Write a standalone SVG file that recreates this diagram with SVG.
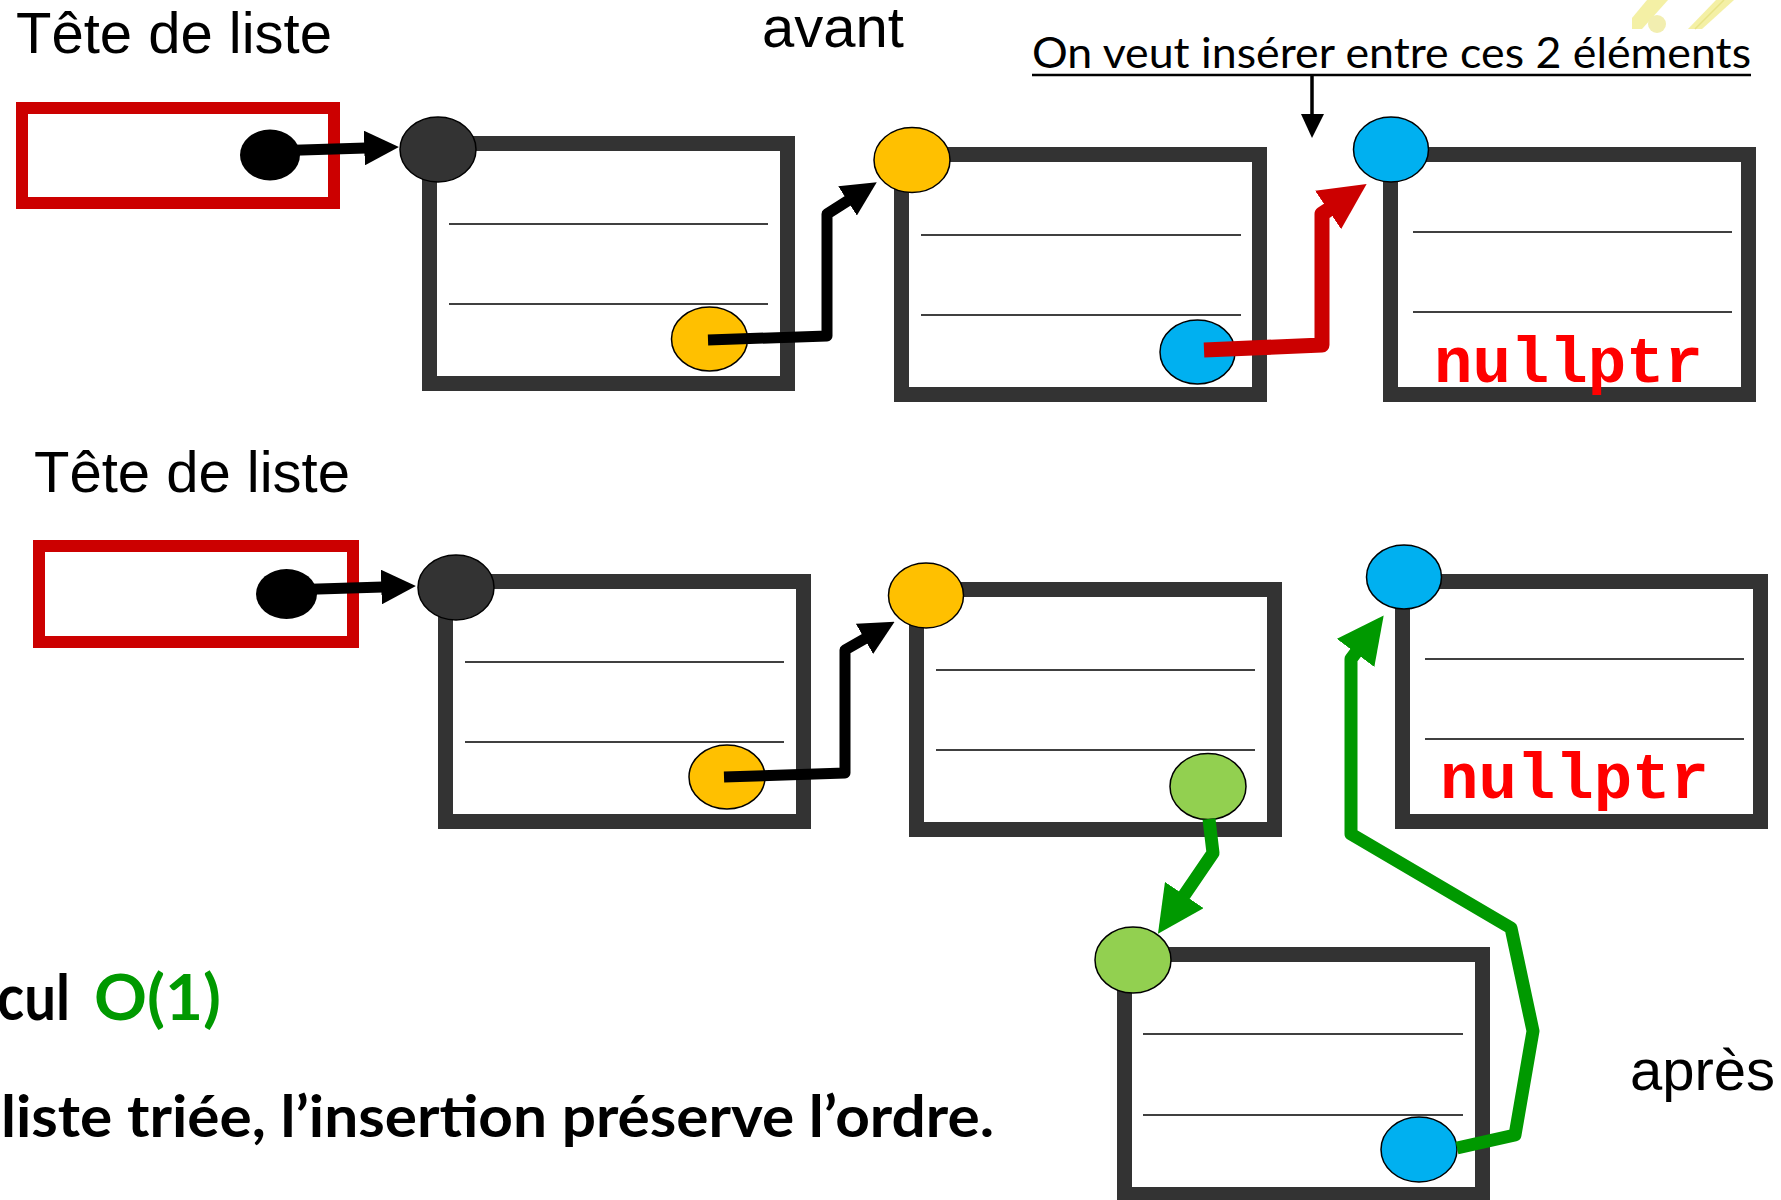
<svg xmlns="http://www.w3.org/2000/svg" width="1781" height="1200" viewBox="0 0 1781 1200">
<defs>
<style>
.title{font-family:"Liberation Sans",Arial,sans-serif;font-size:58px;fill:#000}
.box{fill:#fff;stroke:#333;stroke-width:15}
.head{fill:#fff;stroke:#cc0000;stroke-width:12}
.sep{stroke:#404040;stroke-width:2}
.dot{stroke:#000;stroke-width:1.5}
.dark{fill:#333}
.yel{fill:#ffc000}
.blu{fill:#00b0f0}
.grn{fill:#92d050}
.null{font-family:"Liberation Mono","Courier New",monospace;font-weight:bold;font-size:64px;fill:#ff0000}
.bk{fill:none;stroke:#000;stroke-width:11;stroke-linejoin:round}
.rd{fill:none;stroke:#cc0000;stroke-width:15;stroke-linejoin:round}
.gr{fill:none;stroke:#009900;stroke-width:13;stroke-linejoin:round}
.bold{font-family:Lato,"Open Sans",sans-serif;font-weight:bold;fill:#000}
</style>
<marker id="ahBk" viewBox="0 0 10 10" refX="0.5" refY="5" markerWidth="3.15" markerHeight="3.15" orient="auto" markerUnits="strokeWidth"><path d="M0,0 L10,5 L0,10 z" fill="#000"/></marker>
<marker id="ahRd" viewBox="0 0 10 10" refX="0.5" refY="5" markerWidth="3.1" markerHeight="3.1" orient="auto" markerUnits="strokeWidth"><path d="M0,0 L10,5 L0,10 z" fill="#cc0000"/></marker>
<marker id="ahGr" viewBox="0 0 10 10" refX="0.5" refY="5" markerWidth="3.6" markerHeight="3.6" orient="auto" markerUnits="strokeWidth"><path d="M0,0 L10,5 L0,10 z" fill="#009900"/></marker>
</defs>
<rect width="1781" height="1200" fill="#fff"/>

<!-- pale decoration top right -->
<g id="deco" opacity="0.9">
<polygon points="1632,18 1647,0 1668,0 1642,29 1632,29" fill="#f3ef9c"/>
<circle cx="1657" cy="24" r="9" fill="#f1eda8"/>
<polygon points="1688,29 1716,0 1734,0 1702,29" fill="#f3ef9c"/>
<line x1="1695" y1="29" x2="1724" y2="0" stroke="#e6e07a" stroke-width="1.5"/>
</g>

<g id="labels">
<text class="title" x="16" y="53">Tête de liste</text>
<text class="title" x="762" y="47">avant</text>
<text class="title" x="34" y="492">Tête de liste</text>
<text class="title" x="1630" y="1090">après</text>
<text x="1032" y="68" font-family="Lato,'Open Sans',sans-serif" font-size="42" textLength="719" lengthAdjust="spacingAndGlyphs">On veut insérer entre ces 2 éléments</text>
<line x1="1032" y1="75" x2="1751" y2="75" stroke="#000" stroke-width="2.5"/>
<text class="bold" x="-3" y="1020" font-size="64" textLength="73" lengthAdjust="spacingAndGlyphs">cul</text>
<text class="bold" x="94" y="1020" font-size="64" fill="#009900" style="fill:#009900" textLength="127" lengthAdjust="spacingAndGlyphs">O(1)</text>
<text class="bold" x="1" y="1137" font-size="58" textLength="993" lengthAdjust="spacingAndGlyphs">liste triée, l’insertion préserve l’ordre.</text>
</g>

<!-- top row -->
<g id="head-top">
<rect class="head" x="22" y="108" width="312" height="95"/>
<ellipse cx="270" cy="155" rx="30" ry="25.5" fill="#000"/>
</g>
<g id="node-top-1">
<rect class="box" x="429.5" y="143.5" width="358" height="240"/>
<line class="sep" x1="449" y1="224" x2="768" y2="224"/>
<line class="sep" x1="449" y1="304" x2="768" y2="304"/>
<ellipse class="dot dark" cx="438" cy="149.5" rx="38" ry="32.5"/>
<ellipse class="dot yel" cx="709.5" cy="339" rx="38" ry="32"/>
</g>
<g id="node-top-2">
<rect class="box" x="901.5" y="154.5" width="358" height="240"/>
<line class="sep" x1="921" y1="235" x2="1241" y2="235"/>
<line class="sep" x1="921" y1="315" x2="1241" y2="315"/>
<ellipse class="dot yel" cx="912" cy="160" rx="38" ry="32.5"/>
<ellipse class="dot blu" cx="1197.5" cy="352" rx="37.5" ry="32"/>
</g>
<g id="node-top-3">
<rect class="box" x="1390.5" y="154.5" width="358" height="240"/>
<line class="sep" x1="1413" y1="232" x2="1732" y2="232"/>
<line class="sep" x1="1413" y1="312" x2="1732" y2="312"/>
<ellipse class="dot blu" cx="1391" cy="149.5" rx="37.5" ry="32.5"/>
<text class="null" x="1434" y="382">nullptr</text>
</g>

<!-- bottom row -->
<g id="head-bottom">
<rect class="head" x="39" y="546" width="314" height="96"/>
<ellipse cx="286.5" cy="594" rx="30.5" ry="25" fill="#000"/>
</g>
<g id="node-bot-1">
<rect class="box" x="445.5" y="581.5" width="358" height="240"/>
<line class="sep" x1="465" y1="662" x2="784" y2="662"/>
<line class="sep" x1="465" y1="742" x2="784" y2="742"/>
<ellipse class="dot dark" cx="456" cy="587.5" rx="38" ry="32.5"/>
<ellipse class="dot yel" cx="727" cy="777" rx="38" ry="32"/>
</g>
<g id="node-bot-2">
<rect class="box" x="916.5" y="589.5" width="358" height="240"/>
<line class="sep" x1="936" y1="670" x2="1255" y2="670"/>
<line class="sep" x1="936" y1="750" x2="1255" y2="750"/>
<ellipse class="dot yel" cx="926" cy="595.5" rx="37.5" ry="32.5"/>
<ellipse class="dot grn" cx="1208" cy="786.5" rx="38" ry="33"/>
</g>
<g id="node-bot-3">
<rect class="box" x="1402.5" y="581.5" width="358" height="240"/>
<line class="sep" x1="1425" y1="659" x2="1744" y2="659"/>
<line class="sep" x1="1425" y1="739" x2="1744" y2="739"/>
<ellipse class="dot blu" cx="1404" cy="577" rx="37.5" ry="32"/>
<text class="null" x="1440" y="798">nullptr</text>
</g>
<g id="node-new">
<rect class="box" x="1124.5" y="954.5" width="358" height="240"/>
<line class="sep" x1="1143" y1="1034" x2="1463" y2="1034"/>
<line class="sep" x1="1143" y1="1115" x2="1463" y2="1115"/>
<ellipse class="dot grn" cx="1133" cy="960" rx="38" ry="33"/>
<ellipse class="dot blu" cx="1419" cy="1149.5" rx="38" ry="32.5"/>
</g>

<g id="connectors">
<path class="bk" d="M270,151 L366,148" marker-end="url(#ahBk)"/>
<path class="bk" d="M708,340 L827,336 L827,214 L849,200" marker-end="url(#ahBk)"/>
<path class="rd" d="M1204,350 L1322,345 L1322,214 L1330,208.6" marker-end="url(#ahRd)"/>
<line x1="1312" y1="76" x2="1312" y2="117" stroke="#000" stroke-width="3.5"/>
<polygon points="1301,114 1324,114 1312,138" fill="#000"/>
<path class="bk" d="M286,590 L383,587" marker-end="url(#ahBk)"/>
<path class="bk" d="M724,777 L845,773 L845,650 L866,638" marker-end="url(#ahBk)"/>
<path class="gr" d="M1209,819 L1213,853 L1183,897" marker-end="url(#ahGr)"/>
<path class="gr" d="M1457,1148 L1515,1135 L1533,1031 L1511,928 L1351,834 L1351,659 L1357,651" marker-end="url(#ahGr)"/>
</g>
</svg>
